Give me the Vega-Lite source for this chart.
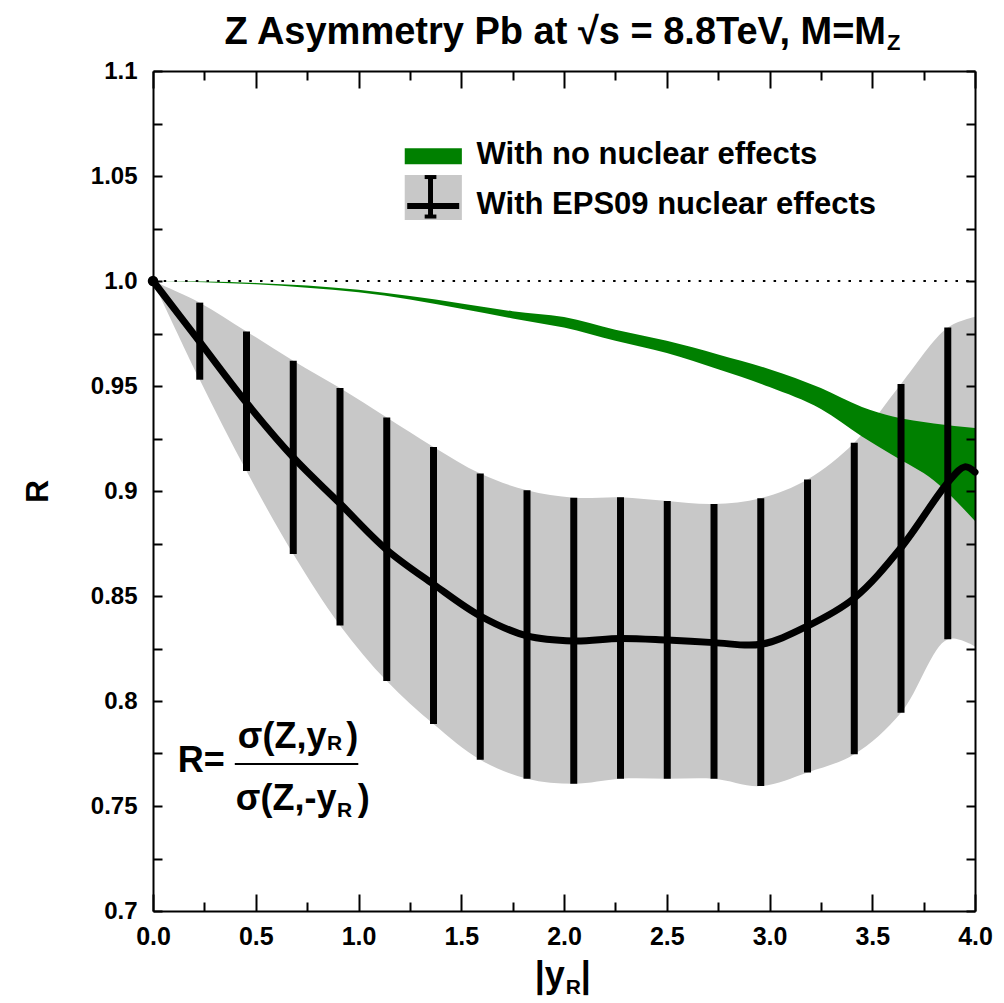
{
  "$schema": "https://vega.github.io/schema/vega-lite/v6.json",
  "width": 822,
  "height": 840,
  "autosize": {"type": "none"},
  "padding": {"left": 153, "top": 71, "right": 29, "bottom": 92},
  "background": "white",
  "config": {"view": {"stroke": null}, "axis": {"grid": false}, "font": "Liberation Sans"},
  "datasets": {
    "bars": [
      {"x": 0.2275, "c": 0.971, "lo": 0.953, "hi": 0.9897},
      {"x": 0.455, "c": 0.942, "lo": 0.9095, "hi": 0.976},
      {"x": 0.6825, "c": 0.916, "lo": 0.870, "hi": 0.962},
      {"x": 0.91, "c": 0.894, "lo": 0.836, "hi": 0.949},
      {"x": 1.1375, "c": 0.872, "lo": 0.8095, "hi": 0.935},
      {"x": 1.365, "c": 0.8556, "lo": 0.789, "hi": 0.921},
      {"x": 1.5925, "c": 0.8405, "lo": 0.772, "hi": 0.9083},
      {"x": 1.82, "c": 0.831, "lo": 0.763, "hi": 0.9003},
      {"x": 2.0475, "c": 0.8286, "lo": 0.7606, "hi": 0.8968},
      {"x": 2.275, "c": 0.8298, "lo": 0.763, "hi": 0.897},
      {"x": 2.5025, "c": 0.829, "lo": 0.763, "hi": 0.8952},
      {"x": 2.73, "c": 0.8278, "lo": 0.763, "hi": 0.8938},
      {"x": 2.9575, "c": 0.827, "lo": 0.7595, "hi": 0.8966},
      {"x": 3.185, "c": 0.8357, "lo": 0.766, "hi": 0.9055},
      {"x": 3.4125, "c": 0.849, "lo": 0.7746, "hi": 0.923},
      {"x": 3.64, "c": 0.873, "lo": 0.7944, "hi": 0.951},
      {"x": 3.8675, "c": 0.904, "lo": 0.8294, "hi": 0.9778}
    ],
    "band": [
      {"x": 0, "lo": 1.0, "hi": 1.0},
      {"x": 0.2275, "lo": 0.953, "hi": 0.9897},
      {"x": 0.455, "lo": 0.9095, "hi": 0.976},
      {"x": 0.6825, "lo": 0.870, "hi": 0.962},
      {"x": 0.91, "lo": 0.836, "hi": 0.949},
      {"x": 1.1375, "lo": 0.8095, "hi": 0.935},
      {"x": 1.365, "lo": 0.789, "hi": 0.921},
      {"x": 1.5925, "lo": 0.772, "hi": 0.9083},
      {"x": 1.82, "lo": 0.763, "hi": 0.9003},
      {"x": 2.0475, "lo": 0.7606, "hi": 0.8968},
      {"x": 2.275, "lo": 0.763, "hi": 0.897},
      {"x": 2.5025, "lo": 0.763, "hi": 0.8952},
      {"x": 2.73, "lo": 0.763, "hi": 0.8938},
      {"x": 2.9575, "lo": 0.7595, "hi": 0.8966},
      {"x": 3.185, "lo": 0.766, "hi": 0.9055},
      {"x": 3.4125, "lo": 0.7746, "hi": 0.923},
      {"x": 3.64, "lo": 0.7944, "hi": 0.951},
      {"x": 3.8675, "lo": 0.8294, "hi": 0.9778},
      {"x": 4.0, "lo": 0.826, "hi": 0.983}
    ],
    "line": [
      {"x": 0, "c": 1.0},
      {"x": 0.2275, "c": 0.971},
      {"x": 0.455, "c": 0.942},
      {"x": 0.6825, "c": 0.916},
      {"x": 0.91, "c": 0.894},
      {"x": 1.1375, "c": 0.872},
      {"x": 1.365, "c": 0.8556},
      {"x": 1.5925, "c": 0.8405},
      {"x": 1.82, "c": 0.831},
      {"x": 2.0475, "c": 0.8286},
      {"x": 2.275, "c": 0.8298},
      {"x": 2.5025, "c": 0.829},
      {"x": 2.73, "c": 0.8278},
      {"x": 2.9575, "c": 0.827},
      {"x": 3.185, "c": 0.8357},
      {"x": 3.4125, "c": 0.849},
      {"x": 3.64, "c": 0.873},
      {"x": 3.8675, "c": 0.904},
      {"x": 3.95, "c": 0.9115},
      {"x": 4.0, "c": 0.909}
    ],
    "nuc": [
      {"x": 0.0, "lo": 1.0, "hi": 1.0},
      {"x": 0.25, "lo": 0.9994, "hi": 0.9998},
      {"x": 0.5, "lo": 0.9984, "hi": 0.9991},
      {"x": 0.75, "lo": 0.9968, "hi": 0.9978},
      {"x": 1.0, "lo": 0.9946, "hi": 0.9958},
      {"x": 1.25, "lo": 0.9912, "hi": 0.9928},
      {"x": 1.5, "lo": 0.9868, "hi": 0.9893},
      {"x": 1.75, "lo": 0.9822, "hi": 0.9856},
      {"x": 2.0, "lo": 0.9778, "hi": 0.9828},
      {"x": 2.25, "lo": 0.9715, "hi": 0.9768},
      {"x": 2.5, "lo": 0.9657, "hi": 0.9715},
      {"x": 2.75, "lo": 0.958, "hi": 0.965},
      {"x": 3.0, "lo": 0.9495, "hi": 0.958},
      {"x": 3.25, "lo": 0.939, "hi": 0.949},
      {"x": 3.45, "lo": 0.926, "hi": 0.94},
      {"x": 3.6, "lo": 0.917, "hi": 0.9355},
      {"x": 3.8, "lo": 0.905, "hi": 0.9322},
      {"x": 4.0, "lo": 0.8857, "hi": 0.93}
    ]
  },
  "resolve": {"axis": {"x": "independent", "y": "independent"}},
  "layer": [
    {
      "data": {"name": "band"},
      "mark": {"type": "area", "color": "#c8c8c8", "interpolate": "catmull-rom"},
      "encoding": {
        "x": {"field": "x", "type": "quantitative", "scale": {"domain": [0, 4], "nice": false, "zero": false},
          "axis": {"orient": "bottom", "values": [0, 0.5, 1, 1.5, 2, 2.5, 3, 3.5, 4], "format": ".1f", "tickSize": -17, "tickWidth": 2, "tickColor": "black", "domainColor": "black", "domainWidth": 2, "labelFont": "Liberation Sans", "labelFontWeight": "bold", "labelFontSize": 25, "labelColor": "black", "labelPadding": 30, "labelFlush": false, "labelOverlap": false, "title": null, "zindex": 1}},
        "y": {"field": "lo", "type": "quantitative", "scale": {"domain": [0.7, 1.1], "nice": false, "zero": false},
          "axis": {"orient": "left", "values": [0.7, 0.725, 0.75, 0.775, 0.8, 0.825, 0.85, 0.875, 0.9, 0.925, 0.95, 0.975, 1, 1.025, 1.05, 1.075, 1.1], "labelExpr": "abs(datum.value*20 - round(datum.value*20)) < 0.001 ? (abs(datum.value - 1) < 0.001 ? '1.0' : format(datum.value, '.2~f')) : ''", "tickSize": -9, "tickWidth": 2, "tickColor": "black", "domainColor": "black", "domainWidth": 2, "labelFont": "Liberation Sans", "labelFontWeight": "bold", "labelFontSize": 24, "labelColor": "black", "labelPadding": 25, "labelOverlap": false, "labelFlush": false, "title": "R", "titleFont": "Liberation Sans", "titleFontWeight": "bold", "titleFontSize": 32, "titleColor": "black", "titlePadding": 36, "zindex": 1}},
        "y2": {"field": "hi"}
      }
    },
    {
      "data": {"name": "nuc"},
      "mark": {"type": "area", "color": "#008000", "interpolate": "monotone"},
      "encoding": {
        "x": {"field": "x", "type": "quantitative",
          "axis": {"orient": "bottom", "values": [0.25, 0.75, 1.25, 1.75, 2.25, 2.75, 3.25, 3.75], "labels": false, "domain": false, "tickSize": -9, "tickWidth": 2, "tickColor": "black", "title": null, "zindex": 1}},
        "y": {"field": "lo", "type": "quantitative", "axis": null},
        "y2": {"field": "hi"}
      }
    },
    {
      "data": {"values": [{"x0": 0, "x1": 4, "y": 1}]},
      "mark": {"type": "rule", "color": "black", "strokeWidth": 2, "strokeDash": [2.5, 8.2]},
      "encoding": {
        "x": {"field": "x0", "type": "quantitative",
          "axis": {"orient": "top", "values": [0, 0.5, 1, 1.5, 2, 2.5, 3, 3.5, 4], "labels": false, "tickSize": -17, "tickWidth": 2, "tickColor": "black", "domainColor": "black", "domainWidth": 2, "title": null, "zindex": 1}},
        "x2": {"field": "x1"},
        "y": {"field": "y", "type": "quantitative",
          "axis": {"orient": "right", "values": [0.7, 0.725, 0.75, 0.775, 0.8, 0.825, 0.85, 0.875, 0.9, 0.925, 0.95, 0.975, 1, 1.025, 1.05, 1.075, 1.1], "labels": false, "tickSize": -9, "tickWidth": 2, "tickColor": "black", "domainColor": "black", "domainWidth": 2, "title": null, "zindex": 1}}
      }
    },
    {
      "data": {"name": "bars"},
      "mark": {"type": "rule", "color": "black", "strokeWidth": 7},
      "encoding": {
        "x": {"field": "x", "type": "quantitative",
          "axis": {"orient": "top", "values": [0.25, 0.75, 1.25, 1.75, 2.25, 2.75, 3.25, 3.75], "labels": false, "domain": false, "tickSize": -9, "tickWidth": 2, "tickColor": "black", "title": null, "zindex": 1}},
        "y": {"field": "lo", "type": "quantitative", "axis": null},
        "y2": {"field": "hi"}
      }
    },
    {
      "data": {"name": "line"},
      "mark": {"type": "line", "color": "black", "strokeWidth": 7, "interpolate": "catmull-rom", "strokeCap": "round"},
      "encoding": {
        "x": {"field": "x", "type": "quantitative", "axis": null},
        "y": {"field": "c", "type": "quantitative", "axis": null}
      }
    },
    {
      "data": {"values": [{"x": 0, "c": 1.0}]},
      "mark": {"type": "point", "filled": true, "color": "black", "size": 110, "opacity": 1},
      "encoding": {
        "x": {"field": "x", "type": "quantitative", "axis": null},
        "y": {"field": "c", "type": "quantitative", "axis": null}
      }
    },
    {
      "data": {"values": [{"x1": 1.225, "x2": 1.503, "y1": 1.0556, "y2": 1.0632}]},
      "mark": {"type": "rect", "color": "#008000"},
      "encoding": {
        "x": {"field": "x1", "type": "quantitative", "axis": null}, "x2": {"field": "x2"},
        "y": {"field": "y1", "type": "quantitative", "axis": null}, "y2": {"field": "y2"}
      }
    },
    {
      "data": {"values": [{"x1": 1.225, "x2": 1.503, "y1": 1.029, "y2": 1.0505}]},
      "mark": {"type": "rect", "color": "#c8c8c8"},
      "encoding": {
        "x": {"field": "x1", "type": "quantitative", "axis": null}, "x2": {"field": "x2"},
        "y": {"field": "y1", "type": "quantitative", "axis": null}, "y2": {"field": "y2"}
      }
    },
    {
      "data": {"values": [{"x1": 1.237, "x2": 1.49, "y": 1.0357}]},
      "mark": {"type": "rule", "color": "black", "strokeWidth": 6},
      "encoding": {
        "x": {"field": "x1", "type": "quantitative", "axis": null}, "x2": {"field": "x2"},
        "y": {"field": "y", "type": "quantitative", "axis": null}
      }
    },
    {
      "data": {"values": [{"x1": 1.322, "x2": 1.379, "y": 1.0495}, {"x1": 1.322, "x2": 1.379, "y": 1.0307}]},
      "mark": {"type": "rule", "color": "black", "strokeWidth": 4},
      "encoding": {
        "x": {"field": "x1", "type": "quantitative", "axis": null}, "x2": {"field": "x2"},
        "y": {"field": "y", "type": "quantitative", "axis": null}
      }
    },
    {
      "data": {"values": [{"x": 1.3505, "y1": 1.0305, "y2": 1.0497}]},
      "mark": {"type": "rule", "color": "black", "strokeWidth": 5},
      "encoding": {
        "x": {"field": "x", "type": "quantitative", "axis": null},
        "y": {"field": "y1", "type": "quantitative", "axis": null}, "y2": {"field": "y2"}
      }
    },
    {
      "data": {"values": [{"x1": 0.398, "x2": 0.999, "y": 0.770}]},
      "mark": {"type": "rule", "color": "black", "strokeWidth": 2},
      "encoding": {
        "x": {"field": "x1", "type": "quantitative", "axis": null}, "x2": {"field": "x2"},
        "y": {"field": "y", "type": "quantitative", "axis": null}
      }
    },
    {
      "data": {"values": [{"t": "With no nuclear effects", "x": 1.5745, "y": 1.0555}, {"t": "With EPS09 nuclear effects", "x": 1.5745, "y": 1.0318}]},
      "mark": {"type": "text", "align": "left", "baseline": "alphabetic", "font": "Liberation Sans", "fontWeight": "bold", "fontSize": 31, "color": "black", "clip": false},
      "encoding": {
        "x": {"field": "x", "type": "quantitative", "axis": null},
        "y": {"field": "y", "type": "quantitative", "axis": null},
        "text": {"field": "t"}
      }
    },
    {
      "data": {"values": [{"t": "Z Asymmetry Pb at √s = 8.8TeV, M=M", "x": 3.567, "y": 1.1129}]},
      "mark": {"type": "text", "align": "right", "baseline": "alphabetic", "font": "Liberation Sans", "fontWeight": "bold", "fontSize": 38, "color": "black", "clip": false},
      "encoding": {
        "x": {"field": "x", "type": "quantitative", "axis": null},
        "y": {"field": "y", "type": "quantitative", "axis": null},
        "text": {"field": "t"}
      }
    },
    {
      "data": {"values": [{"t": "Z", "x": 3.572, "y": 1.110}]},
      "mark": {"type": "text", "align": "left", "baseline": "alphabetic", "font": "Liberation Sans", "fontWeight": "bold", "fontSize": 22, "color": "black", "clip": false},
      "encoding": {
        "x": {"field": "x", "type": "quantitative", "axis": null},
        "y": {"field": "y", "type": "quantitative", "axis": null},
        "text": {"field": "t"}
      }
    },
    {
      "data": {"values": [{"t": "R=", "x": 0.1203, "y": 0.7663}, {"t": ")", "x": 0.94, "y": 0.7776}, {"t": ")", "x": 0.9966, "y": 0.7481}]},
      "mark": {"type": "text", "align": "left", "baseline": "alphabetic", "font": "Liberation Sans", "fontWeight": "bold", "fontSize": 36, "color": "black", "clip": false},
      "encoding": {
        "x": {"field": "x", "type": "quantitative", "axis": null},
        "y": {"field": "y", "type": "quantitative", "axis": null},
        "text": {"field": "t"}
      }
    },
    {
      "data": {"values": [{"t": "σ(Z,y", "x": 0.8442, "y": 0.7776}, {"t": "σ(Z,-y", "x": 0.8929, "y": 0.7481}]},
      "mark": {"type": "text", "align": "right", "baseline": "alphabetic", "font": "Liberation Sans", "fontWeight": "bold", "fontSize": 36, "color": "black", "clip": false},
      "encoding": {
        "x": {"field": "x", "type": "quantitative", "axis": null},
        "y": {"field": "y", "type": "quantitative", "axis": null},
        "text": {"field": "t"}
      }
    },
    {
      "data": {"values": [{"t": "R", "x": 0.8462, "y": 0.7768}, {"t": "R", "x": 0.895, "y": 0.7449}]},
      "mark": {"type": "text", "align": "left", "baseline": "alphabetic", "font": "Liberation Sans", "fontWeight": "bold", "fontSize": 21, "color": "black", "clip": false},
      "encoding": {
        "x": {"field": "x", "type": "quantitative", "axis": null},
        "y": {"field": "y", "type": "quantitative", "axis": null},
        "text": {"field": "t"}
      }
    },
    {
      "data": {"values": [{"t": "|y", "x": 2.004, "y": 0.6640}]},
      "mark": {"type": "text", "align": "right", "baseline": "alphabetic", "font": "Liberation Sans", "fontWeight": "bold", "fontSize": 36, "color": "black", "clip": false},
      "encoding": {
        "x": {"field": "x", "type": "quantitative", "axis": null},
        "y": {"field": "y", "type": "quantitative", "axis": null},
        "text": {"field": "t"}
      }
    },
    {
      "data": {"values": [{"t": "R", "x": 2.008, "y": 0.6603}]},
      "mark": {"type": "text", "align": "left", "baseline": "alphabetic", "font": "Liberation Sans", "fontWeight": "bold", "fontSize": 21, "color": "black", "clip": false},
      "encoding": {
        "x": {"field": "x", "type": "quantitative", "axis": null},
        "y": {"field": "y", "type": "quantitative", "axis": null},
        "text": {"field": "t"}
      }
    },
    {
      "data": {"values": [{"t": "|", "x": 2.082, "y": 0.6640}]},
      "mark": {"type": "text", "align": "left", "baseline": "alphabetic", "font": "Liberation Sans", "fontWeight": "bold", "fontSize": 36, "color": "black", "clip": false},
      "encoding": {
        "x": {"field": "x", "type": "quantitative", "axis": null},
        "y": {"field": "y", "type": "quantitative", "axis": null},
        "text": {"field": "t"}
      }
    }
  ]
}
